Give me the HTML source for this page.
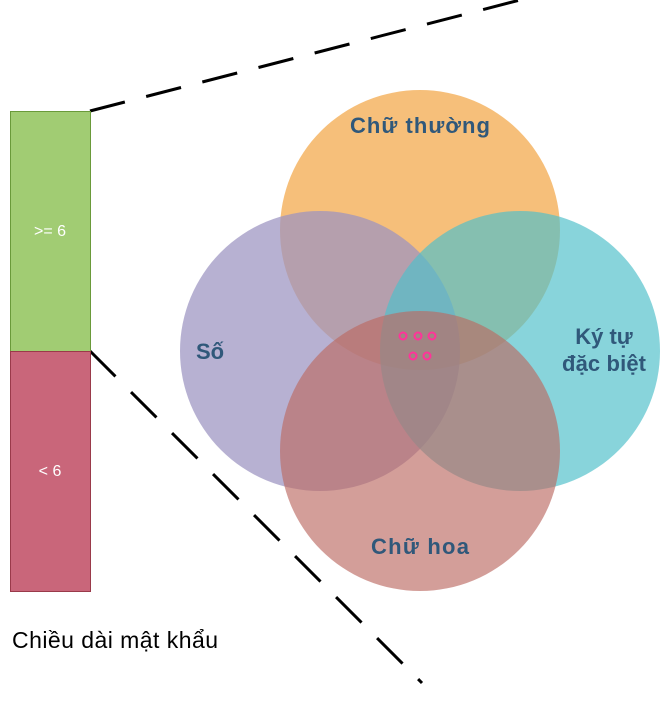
<!DOCTYPE html>
<html><head><style>body{margin:0;background:#fff}svg{display:block}</style></head><body>
<svg width="660" height="705" xmlns="http://www.w3.org/2000/svg" font-family="Liberation Sans, sans-serif">
<line x1="90" y1="111" x2="520" y2="0" stroke="#000" stroke-width="3" stroke-dasharray="36,22"/>
<line x1="90" y1="351" x2="422" y2="683" stroke="#000" stroke-width="3" stroke-dasharray="36,22"/>
<rect x="10.5" y="111.5" width="80" height="240" fill="#a1cc73" stroke="#6a9a3a"/>
<rect x="10.5" y="351.5" width="80" height="240" fill="#c9667a" stroke="#9a3a4a"/>
<text x="50" y="236" fill="#fff" font-size="16" text-anchor="middle">&gt;= 6</text>
<text x="50" y="476" fill="#fff" font-size="16" text-anchor="middle">&lt; 6</text>
<text x="12" y="648" font-size="23" fill="#000" textLength="206">Chiều dài mật khẩu</text>
<circle cx="420" cy="230" r="140" fill="#f3a94d" opacity="0.75"/>
<circle cx="320" cy="351" r="140" fill="#9b93c1" opacity="0.72"/>
<circle cx="520" cy="351" r="140" fill="#4fbfca" opacity="0.68"/>
<circle cx="420" cy="451" r="140" fill="#bc6a62" opacity="0.65"/>
<g font-size="22" font-weight="bold" fill="#30587a">
<text x="420" y="133" text-anchor="middle" textLength="140">Chữ thường</text>
<text x="210" y="359" text-anchor="middle">Số</text>
<text x="604" y="344" text-anchor="middle">Ký tự</text>
<text x="604" y="371" text-anchor="middle" textLength="84">đặc biệt</text>
<text x="420" y="554" text-anchor="middle" textLength="98">Chữ hoa</text>
</g>
<g fill="none" stroke="#ff3399" stroke-width="2">
<circle cx="403" cy="336" r="3.5"/><circle cx="418" cy="336" r="3.5"/><circle cx="432" cy="336" r="3.5"/>
<circle cx="413" cy="356" r="3.5"/><circle cx="427" cy="356" r="3.5"/>
</g>
</svg>
</body></html>
